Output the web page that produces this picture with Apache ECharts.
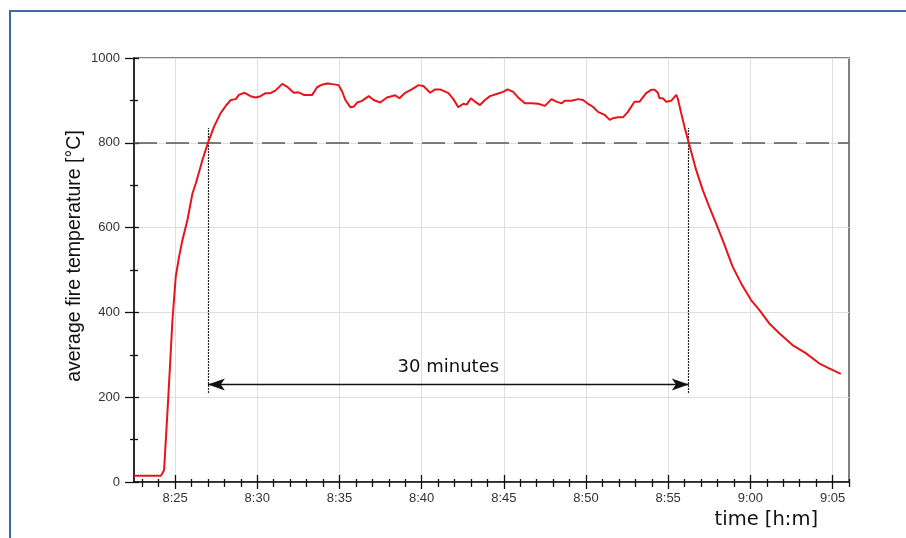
<!DOCTYPE html>
<html>
<head>
<meta charset="utf-8">
<title>average fire temperature</title>
<script src="https://cdn.jsdelivr.net/npm/echarts@6/dist/echarts.min.js"></script>
<style>
  html, body { margin: 0; padding: 0; background: #fff; }
  #main { width: 906px; height: 538px; }
</style>
</head>
<body>
<div id="main"></div>
<script>
  // time is in minutes after 8:00
  const timeMin = [
    22.5, 24.14, 24.33, 24.6, 24.84, 25.04, 25.24, 25.45, 25.75, 26.06,
    26.26, 26.66, 27.0, 27.37, 27.77, 28.1, 28.39, 28.69, 28.88, 29.23,
    29.59, 29.9, 30.2, 30.5, 30.8, 31.1, 31.52, 31.82, 32.22, 32.52,
    32.83, 33.34, 33.64, 33.94, 34.25, 34.45, 34.95, 35.16, 35.36, 35.66,
    35.86, 36.07, 36.37, 36.78, 37.08, 37.48, 37.89, 38.39, 38.65, 39.0,
    39.4, 39.81, 40.11, 40.52, 40.82, 41.12, 41.63, 41.93, 42.23, 42.54,
    42.74, 43.0, 43.25, 43.55, 43.85, 44.16, 44.56, 44.96, 45.23, 45.57,
    45.87, 46.28, 46.69, 47.09, 47.5, 47.9, 48.2, 48.51, 48.71, 49.11,
    49.52, 49.82, 50.12, 50.42, 50.73, 51.13, 51.44, 51.64, 51.94, 52.25,
    52.55, 52.95, 53.26, 53.66, 53.97, 54.17, 54.37, 54.47, 54.67, 54.88,
    55.18, 55.49, 55.58, 55.79, 55.99, 56.25, 56.7, 57.1, 57.5, 57.91,
    58.31, 58.92, 59.43, 60.04, 60.54, 61.15, 61.76, 62.56, 63.37, 64.18,
    64.79, 65.5
  ]
  const fireTemp = [
    15, 15, 28, 209, 382, 484, 531, 571, 618, 681,
    704, 759, 800, 838, 870, 888, 901, 903, 913, 918,
    910, 907, 910, 917, 917, 923, 939, 932, 918, 919,
    913, 913, 931, 937, 940, 939, 936, 921, 901, 884,
    885, 895, 899, 910, 901, 895, 907, 912, 905, 918,
    926, 936, 934, 918, 926, 926, 917, 903, 884, 892,
    890, 905, 897, 889, 901, 910, 915, 920, 926, 920,
    907, 893, 893, 892, 887, 903, 897, 893, 899, 899,
    903, 901, 892, 885, 873, 866, 854, 858, 860, 860,
    873, 897, 897, 917, 925, 925, 918, 905, 905, 897,
    899, 913, 905, 870, 838, 800, 736, 689, 649, 610,
    571, 508, 469, 429, 406, 374, 351, 323, 304, 280,
    268, 255
  ]

  const xRange = [22.5, 66]
  const xMajor = [25, 30, 35, 40, 45, 50, 55, 60, 65]
  const xMinor = [23, 24, 26, 27, 28, 29, 31, 32, 33, 34, 36, 37, 38, 39, 41, 42, 43, 44,
    46, 47, 48, 49, 51, 52, 53, 54, 56, 57, 58, 59, 61, 62, 63, 64, 66]
  const yMajor = [0, 200, 400, 600, 800, 1000]
  const yMinor = [100, 300, 500, 700, 900]

  const limitTemp = 800
  const crossTimes = [27.0, 56.25]   // where the curve passes 800 °C
  const bracketSpan = [210, 835]
  const arrowLevel = 230
  const arrowText = '30 minutes'

  const fmtTime = (v) => {
    let h = 8 + Math.floor(v / 60)
    let m = Math.round(v % 60)
    return h + ':' + (m < 10 ? '0' + m : m)
  }

  let myChart = echarts.init(document.getElementById('main'))

  let ink = '#111'
  let xBase = { type: 'value', min: xRange[0], max: xRange[1], position: 'bottom', gridIndex: 0 }
  let yBase = { type: 'value', min: 0, max: 1000, position: 'left', gridIndex: 0 }
  let noLine = { show: false, onZero: false }
  let noLabel = { show: false }
  let noSplit = { show: false }

  let tickAxis = (base, values, len, inside) => Object.assign({}, base, {
    axisLine: noLine,
    axisLabel: noLabel,
    splitLine: noSplit,
    axisTick: { show: true, inside: inside, customValues: values, length: len, lineStyle: { color: ink, width: 1.3 } }
  })

  let series = [{
    type: 'line',
    data: timeMin.map((t, i) => [t, fireTemp[i]]),
    showSymbol: false,
    smooth: false,
    lineStyle: { color: '#e8141b', width: 2 },
    z: 5,
    markLine: {
      silent: true,
      symbol: 'none',
      label: { show: false },
      z: 3,
      data: [
        { yAxis: limitTemp, lineStyle: { color: '#555', width: 1.5, type: [23, 9] } },
        [{ coord: [crossTimes[0], bracketSpan[0]] }, { coord: [crossTimes[0], bracketSpan[1]] }],
        [{ coord: [crossTimes[1], bracketSpan[0]] }, { coord: [crossTimes[1], bracketSpan[1]] }]
      ],
      lineStyle: { color: '#222', width: 1.2, type: [2, 1] },
      animation: false
    }
  }, {
    // the double arrow for the 30 minutes span
    type: 'line',
    data: [],
    markLine: {
      silent: true,
      symbol: ['arrow', 'arrow'],
      symbolSize: [9, 17],
      lineStyle: { color: ink, width: 1.3, type: 'solid' },
      label: {
        show: true,
        position: 'insideMiddleTop',
        distance: 8,
        formatter: arrowText,
        color: '#111',
        fontSize: 18,
        fontFamily: 'DejaVu Sans'
      },
      data: [[{ coord: [crossTimes[0], arrowLevel] }, { coord: [crossTimes[1], arrowLevel] }]],
      animation: false
    }
  }]

  let option = {
    animation: false,
    backgroundColor: '#fff',
    grid: {
      left: 134, top: 58, right: 57, bottom: 56,
      show: true, borderColor: '#555', borderWidth: 1.5, backgroundColor: 'transparent'
    },
    xAxis: [
      Object.assign({}, xBase, {
        axisLine: { show: true, onZero: false, lineStyle: { color: ink, width: 1.5 } },
        axisTick: { show: true, customValues: xMajor, length: 7, lineStyle: { color: ink, width: 1.3 } },
        axisLabel: {
          customValues: xMajor, formatter: fmtTime, margin: 10,
          fontSize: 13, color: '#333', fontFamily: 'Liberation Sans'
        },
        splitLine: { show: true, lineStyle: { color: '#dedede', width: 1 } }
      }),
      tickAxis(xBase, xMajor, 7, true),
      tickAxis(xBase, xMinor, 5, false),
      tickAxis(xBase, xMinor, 3, true)
    ],
    yAxis: [
      Object.assign({}, yBase, {
        axisLine: { show: true, onZero: false, lineStyle: { color: ink, width: 1.5 } },
        axisTick: { show: true, customValues: yMajor, length: 9, lineStyle: { color: ink, width: 1.3 } },
        axisLabel: {
          customValues: yMajor, margin: 14, formatter: (v) => String(v),
          fontSize: 13, color: '#333', fontFamily: 'Liberation Sans'
        },
        splitLine: { show: true, lineStyle: { color: '#dedede', width: 1 } }
      }),
      tickAxis(yBase, yMajor, 5, true),
      tickAxis(yBase, yMinor, 4, false),
      tickAxis(yBase, yMinor, 4, true)
    ],
    graphic: [
      {
        type: 'rect',
        shape: { x: 10, y: 11, width: 1000, height: 1000 },
        style: { fill: 'none', stroke: '#3f6aa2', lineWidth: 2 },
        silent: true
      },
      {
        type: 'text',
        x: 75, y: 256,
        rotation: Math.PI / 2,
        style: {
          text: 'average fire temperature [°C]',
          fontSize: 19.5, fontFamily: 'Liberation Sans', fill: '#111',
          align: 'center', verticalAlign: 'middle'
        }
      },
      {
        type: 'text',
        x: 818, y: 520,
        style: {
          text: 'time [h:m]',
          fontSize: 19.5, fontFamily: 'DejaVu Sans', fill: '#111',
          align: 'right', verticalAlign: 'middle'
        }
      }
    ],
    series: series
  }

  myChart.setOption(option)
</script>
</body>
</html>
